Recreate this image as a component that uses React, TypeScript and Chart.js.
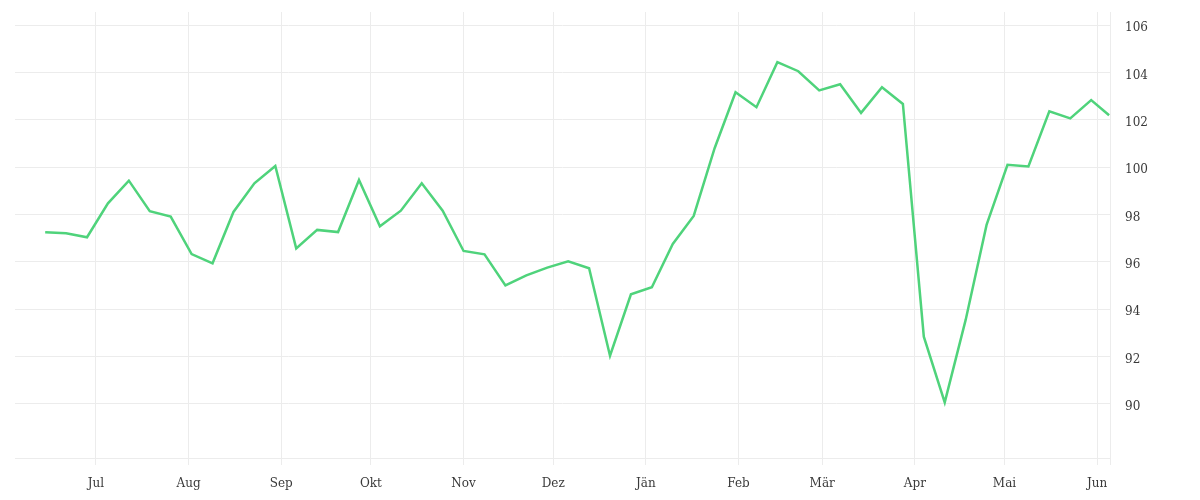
import React, { useEffect, useRef } from "react";
import { Chart, registerables } from "chart.js";

Chart.register(...registerables);

const dates: string[] = [
  "2022-06-14", "2022-06-21", "2022-06-28",
  "2022-07-05", "2022-07-12", "2022-07-19", "2022-07-26",
  "2022-08-02", "2022-08-09", "2022-08-16", "2022-08-23", "2022-08-30",
  "2022-09-06", "2022-09-13", "2022-09-20", "2022-09-27",
  "2022-10-04", "2022-10-11", "2022-10-18", "2022-10-25",
  "2022-11-01", "2022-11-08", "2022-11-15", "2022-11-22", "2022-11-29",
  "2022-12-06", "2022-12-13", "2022-12-20", "2022-12-27",
  "2023-01-03", "2023-01-10", "2023-01-17", "2023-01-24", "2023-01-31",
  "2023-02-07", "2023-02-14", "2023-02-21", "2023-02-28",
  "2023-03-07", "2023-03-14", "2023-03-21", "2023-03-28",
  "2023-04-04", "2023-04-11", "2023-04-18", "2023-04-25",
  "2023-05-02", "2023-05-09", "2023-05-16", "2023-05-23", "2023-05-30",
  "2023-06-05",
];

const values: number[] = [
  97.25, 97.21, 97.04, 98.47, 99.43, 98.14, 97.91, 96.33, 95.94, 98.11,
  99.32, 100.05, 96.57, 97.35, 97.26, 99.46, 97.5, 98.16, 99.32, 98.16,
  96.46, 96.32, 95.01, 95.43, 95.76, 96.02, 95.73, 92.04, 94.63, 94.93,
  96.76, 97.94, 100.8, 103.16, 102.53, 104.43, 104.05, 103.24, 103.5, 102.29,
  103.37, 102.67, 92.84, 90.07, 93.55, 97.56, 100.1, 100.03, 102.36, 102.06,
  102.83, 102.19,
];

const monthStarts: string[] = [
  "2022-07-01", "2022-08-01", "2022-09-01", "2022-10-01", "2022-11-01", "2022-12-01",
  "2023-01-01", "2023-02-01", "2023-03-01", "2023-04-01", "2023-05-01", "2023-06-01",
];
const monthLabels: string[] = ["Jul", "Aug", "Sep", "Okt", "Nov", "Dez", "Jän", "Feb", "Mär", "Apr", "Mai", "Jun"];

const yTicks: number[] = [90, 92, 94, 96, 98, 100, 102, 104, 106];

const toDay = (s: string) => {
  const [y, m, d] = s.split("-").map(Number);
  return Date.UTC(y, m - 1, d) / 86400000;
};

export default function App() {
  const ref = useRef<HTMLCanvasElement | null>(null);

  useEffect(() => {
    if (!ref.current) return;
    const xs = dates.map(toDay);
    const monthDays = monthStarts.map(toDay);
    const xMin = xs[0] - 10.1;
    const xMax = xs[xs.length - 1] + 0.3;
    const grid = "#ececec";
    const font = { family: "'DejaVu Serif', serif", size: 12 };

    const chart = new Chart(ref.current, {
      type: "line",
      data: {
        datasets: [
          {
            data: xs.map((x, i) => ({ x, y: values[i] })),
            borderColor: "#4fd37b",
            borderWidth: 2.5,
            pointRadius: 0,
            tension: 0,
            fill: false,
          },
        ],
      },
      options: {
        animation: false,
        responsive: true,
        maintainAspectRatio: false,
        layout: { padding: { left: 7, top: 4, right: 0, bottom: 0 } },
        plugins: { legend: { display: false }, tooltip: { enabled: false } },
        scales: {
          x: {
            type: "linear",
            min: xMin,
            max: xMax,
            afterBuildTicks: (scale: any) => {
              scale.ticks = [...monthDays.map((v) => ({ value: v })), { value: xMax }];
            },
            afterFit: (scale: any) => {
              scale.height = 34;
              scale.paddingLeft = 0;
              scale.paddingRight = 0;
            },
            grid: { color: grid, tickLength: 7, drawTicks: true },
            border: { display: true, color: grid },
            ticks: {
              autoSkip: false,
              maxRotation: 0,
              padding: 12,
              color: "#3a3a3a",
              font,
              callback: (v: any) => {
                const i = monthDays.indexOf(Number(v));
                return i >= 0 ? monthLabels[i] : "";
              },
            },
          },
          y: {
            position: "right",
            min: 87.72,
            max: 106.55,
            afterBuildTicks: (scale: any) => {
              scale.ticks = yTicks.map((v) => ({ value: v }));
            },
            afterFit: (scale: any) => {
              scale.width = 82;
              scale.paddingTop = 0;
              scale.paddingBottom = 0;
            },
            grid: { color: grid, drawTicks: false },
            border: { display: true, color: grid },
            ticks: {
              padding: 15,
              labelOffset: 3,
              color: "#3a3a3a",
              font,
              callback: (v: any) => String(v),
            },
          },
        },
      },
    });
    return () => chart.destroy();
  }, []);

  return (
    <div style={{ width: 1184, height: 484, position: "relative" }}>
      <canvas ref={ref} />
    </div>
  );
}
